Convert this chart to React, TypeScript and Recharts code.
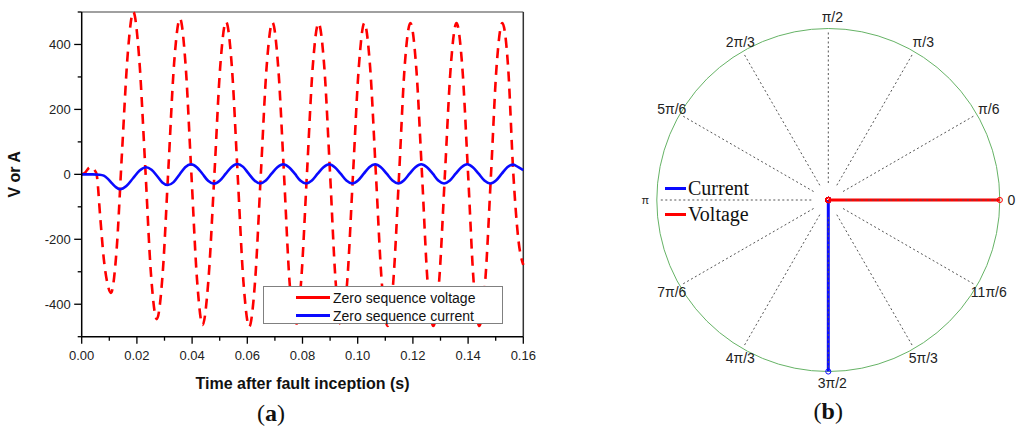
import React from 'react';
import {
  LineChart, Line, XAxis, YAxis, ReferenceLine, Legend,
  RadarChart, Radar, PolarGrid, PolarAngleAxis, PolarRadiusAxis,
} from 'recharts';

// ---------- Panel (a) data ----------
const voltageTime = [
  0, 0.0012, 0.0024, 0.0036, 0.0045, 0.0054, 0.0067, 0.008, 0.0093, 0.0106,
  0.0126, 0.0146, 0.0167, 0.0187,
  0.0208, 0.023, 0.0251, 0.0272,
  0.0293, 0.0314, 0.0335, 0.0356,
  0.0376, 0.0397, 0.0418, 0.0438,
  0.0459, 0.0481, 0.0502, 0.0523,
  0.0544, 0.0565, 0.0586, 0.0607,
  0.0628, 0.0649, 0.067, 0.0691,
  0.0712, 0.0733, 0.0753, 0.0774,
  0.0795, 0.0816, 0.0837, 0.0858,
  0.0879, 0.09, 0.092, 0.0941,
  0.0962, 0.0983, 0.1004, 0.1024,
  0.1045, 0.1066, 0.1087, 0.1108,
  0.1129, 0.115, 0.117, 0.1191,
  0.1212, 0.1233, 0.1253, 0.1274,
  0.1295, 0.1316, 0.1337, 0.1358,
  0.1379, 0.14, 0.142, 0.1441,
  0.1462, 0.1483, 0.1503, 0.1524,
  0.1545, 0.1564, 0.1582, 0.16,
];
const voltageValue = [
  0, 5, 18, 23, 15, 0, -130, -260, -335, -365,
  -238, 67, 373, 500,
  361, 27, -307, -446,
  -310, 17, 344, 480,
  342, 8, -326, -464,
  -327, 3, 333, 470,
  332, 0, -331, -469,
  -331, 0, 331, 468,
  330, 0, -330, -467,
  -330, 0, 330, 466,
  330, 0, -330, -467,
  -330, 0, 330, 466,
  330, 0, -330, -467,
  -330, 0, 330, 466,
  330, 0, -330, -467,
  -330, 0, 330, 466,
  330, 0, -330, -467,
  -330, 0, 330, 466,
  330, 0, -200, -279,
];
const currentTime = [
  0, 0.004, 0.0065, 0.008, 0.0095, 0.011, 0.0125, 0.0139,
  0.0162, 0.0186, 0.021, 0.0233,
  0.0253, 0.0273, 0.0292, 0.0312,
  0.0333, 0.0354, 0.0375, 0.0396,
  0.0417, 0.0438, 0.0458, 0.0479,
  0.05, 0.0522, 0.0543, 0.0564,
  0.0585, 0.0605, 0.0626, 0.0646,
  0.0667, 0.0688, 0.0709, 0.073,
  0.0751, 0.0772, 0.0792, 0.0813,
  0.0834, 0.0855, 0.0876, 0.0897,
  0.0917, 0.0938, 0.0959, 0.098,
  0.1001, 0.1022, 0.1042, 0.1063,
  0.1084, 0.1105, 0.1126, 0.1147,
  0.1167, 0.1188, 0.1209, 0.123,
  0.1251, 0.1272, 0.1292, 0.1313,
  0.1334, 0.1355, 0.1376, 0.1397,
  0.1417, 0.1438, 0.1459, 0.148,
  0.1501, 0.1522, 0.1542, 0.1563,
  0.1582, 0.16,
];
const currentValue = [
  0, 0, -1, -4, -14, -28, -40, -46,
  -36, -12, 12, 22,
  14, -5, -25, -33,
  -24, -1, 22, 31,
  22, 1, -20, -29,
  -20, 2, 23, 32,
  23, 2, -19, -28,
  -19, 2, 22, 31,
  22, 2, -19, -28,
  -19, 2, 22, 31,
  22, 2, -19, -28,
  -19, 2, 22, 31,
  22, 2, -19, -28,
  -19, 2, 22, 31,
  22, 2, -19, -28,
  -19, 2, 22, 31,
  22, 2, -19, -28,
  -19, 2, 22, 30,
  22, 13,
];

const xTicks = [0, 0.01, 0.02, 0.03, 0.04, 0.05, 0.06, 0.07, 0.08, 0.09, 0.1, 0.11, 0.12, 0.13, 0.14, 0.15, 0.16];
const xMajorTicks = [0, 0.02, 0.04, 0.06, 0.08, 0.1, 0.12, 0.14, 0.16];
const yTicks = [-500, -400, -300, -200, -100, 0, 100, 200, 300, 400, 500];
const yMajorTicks = [-400, -200, 0, 200, 400];
const legendOrderA = ['Zero sequence voltage', 'Zero sequence current'];

// ---------- Panel (b) data ----------
const angleLabels = ['0', 'π/6', 'π/3', 'π/2', '2π/3', '5π/6', 'π', '7π/6', '4π/3', '3π/2', '5π/3', '11π/6'];
const voltagePhasor = [1, 0, 0, 0, 0, 0, 0, 0, 0, 0, 0, 0];
const currentPhasor = [0, 0, 0, 0, 0, 0, 0, 0, 0, 1, 0, 0];

const voltageData = voltageTime.map((t, i) => ({ t, v: voltageValue[i] }));
const currentData = currentTime.map((t, i) => ({ t, v: currentValue[i] }));
const phasorData = angleLabels.map((angle, i) => ({ angle, voltage: voltagePhasor[i], current: currentPhasor[i] }));

const SANS = '"Liberation Sans", Arial, sans-serif';
const SERIF = '"Liberation Serif", "Times New Roman", serif';

const isMajor = (list: number[], v: number) => list.some((m) => Math.abs(m - v) < 1e-9);

const XTick = (props: any) => {
  const { x, y, payload } = props;
  const major = isMajor(xMajorTicks, payload.value);
  return (
    <g>
      <line x1={x} y1={y} x2={x} y2={y + (major ? 7 : 4)} stroke="#000" strokeWidth={1.3} />
      {major && (
        <text x={x} y={y + 19} textAnchor="middle" dominantBaseline="central" fontSize={13} fill="#222" fontFamily={SANS}>
          {Number(payload.value).toFixed(2)}
        </text>
      )}
    </g>
  );
};

const YTick = (props: any) => {
  const { x, y, payload } = props;
  const major = isMajor(yMajorTicks, payload.value);
  return (
    <g>
      <line x1={x} y1={y} x2={x - (major ? 7.5 : 4)} y2={y} stroke="#000" strokeWidth={1.3} />
      {major && (
        <text x={x - 11} y={y} textAnchor="end" dominantBaseline="central" fontSize={13} fill="#222" fontFamily={SANS}>
          {String(payload.value)}
        </text>
      )}
    </g>
  );
};

const LegendA = (props: any) => {
  const payload = [...(props.payload || [])].sort(
    (a: any, b: any) => legendOrderA.indexOf(a.value) - legendOrderA.indexOf(b.value),
  );
  return (
    <div style={{ width: 240, height: 38, boxSizing: 'border-box', border: '1px solid #808080', background: '#fff', paddingTop: 1.7 }}>
      {payload.map((e: any) => (
        <div key={e.value} style={{ display: 'flex', alignItems: 'center', height: 18 }}>
          <div style={{ marginLeft: 32, width: 34, height: 2.5, background: e.color }} />
          <span style={{ marginLeft: 3, fontSize: 14, lineHeight: '18px', color: '#111', fontFamily: SANS, whiteSpace: 'nowrap' }}>
            {e.value}
          </span>
        </div>
      ))}
    </div>
  );
};

const LegendB = (props: any) => {
  const payload = (props.payload || []).filter((e: any) => e.type !== 'none');
  return (
    <div>
      {payload.map((e: any) => (
        <div key={e.value} style={{ display: 'flex', alignItems: 'center', height: 26 }}>
          <div style={{ width: 21, height: 3, background: e.color }} />
          <span style={{ marginLeft: 2, fontSize: 20, lineHeight: '26px', color: '#111', fontFamily: SERIF, whiteSpace: 'nowrap' }}>
            {e.value}
          </span>
        </div>
      ))}
    </div>
  );
};

const CX = 228.3;
const CY = 200;
const LABEL_R = 183;
// angle ranges for the label/spoke chart and the phasor chart (aligned so index 0 sits at 0 rad)
const GRID_START = 30;
const GRID_END = 390;
const PHASOR_START = -30;
const PHASOR_END = 330;

const AngleTick = (props: any) => {
  const { payload } = props;
  const rad = (payload.coordinate * Math.PI) / 180;
  const x = CX + LABEL_R * Math.cos(rad) + 4 * Math.abs(Math.sin(rad));
  const y = CY - LABEL_R * Math.sin(rad);
  const small = payload.value === 'π';
  return (
    <text x={x} y={y} textAnchor="middle" dominantBaseline="central" fontSize={small ? 11 : 14} fill="#222" fontFamily={SANS}>
      {payload.value}
    </text>
  );
};

const makeDot = (color: string) => (p: any) => (
  <circle key={`${color}-${p.index}`} cx={p.cx} cy={p.cy} r={2.6} fill="none" stroke={color} strokeWidth={1} />
);

export default function App() {
  return (
    <div style={{ position: 'absolute', left: 0, top: 0, width: 1024, height: 434, background: '#fff', overflow: 'hidden' }}>
      {/* Panel (a) */}
      <div style={{ position: 'absolute', left: 0, top: 0 }}>
        <LineChart width={600} height={434} margin={{ top: 12, right: 76.7, bottom: 41.3, left: 0 }}>
          <XAxis
            type="number"
            dataKey="t"
            domain={[0, 0.16]}
            ticks={xTicks}
            interval={0}
            tickSize={0}
            tickMargin={0}
            tickLine={false}
            tick={<XTick />}
            height={56}
            axisLine={{ stroke: '#000', strokeWidth: 1.5 }}
            label={{
              value: 'Time after fault inception (s)',
              position: 'insideBottom',
              offset: 3.3,
              style: { fontFamily: SANS, fontWeight: 'bold', fontSize: 16, fill: '#111' },
            }}
          />
          <YAxis
            type="number"
            domain={[-500, 500]}
            ticks={yTicks}
            interval={0}
            tickSize={0}
            tickMargin={0}
            tickLine={false}
            tick={<YTick />}
            width={81.7}
            axisLine={{ stroke: '#000', strokeWidth: 1.5 }}
            label={{
              value: 'V or A',
              angle: -90,
              position: 'insideLeft',
              offset: 14,
              style: { textAnchor: 'middle', fontFamily: SANS, fontWeight: 'bold', fontSize: 16, fill: '#111' },
            }}
          />
          <ReferenceLine y={500} stroke="#808080" strokeWidth={1.5} />
          <ReferenceLine x={0.16} stroke="#333" strokeWidth={1.5} />
          <Line
            data={voltageData}
            dataKey="v"
            name="Zero sequence voltage"
            type="monotone"
            stroke="#ff0000"
            strokeWidth={2.6}
            strokeDasharray="10 7"
            dot={false}
            activeDot={false}
            isAnimationActive={false}
          />
          <Line
            data={currentData}
            dataKey="v"
            name="Zero sequence current"
            type="monotone"
            stroke="#0a0aff"
            strokeWidth={2.6}
            dot={false}
            activeDot={false}
            isAnimationActive={false}
          />
          <Legend
            layout="vertical"
            align="center"
            verticalAlign="middle"
            wrapperStyle={{ left: 263, top: 286, width: 240, height: 38 }}
            content={<LegendA />}
          />
        </LineChart>
      </div>

      {/* Panel (b): phasors + circle */}
      <div style={{ position: 'absolute', left: 600, top: 0 }}>
        <RadarChart
          width={424}
          height={434}
          cx={CX}
          cy={CY}
          innerRadius={0}
          outerRadius={171.5}
          startAngle={PHASOR_START}
          endAngle={PHASOR_END}
          data={phasorData}
          margin={{ top: 0, right: 0, bottom: 0, left: 0 }}
        >
          <PolarGrid gridType="circle" radialLines={false} polarRadius={[171.5]} stroke="#66b366" strokeWidth={1} />
          <PolarAngleAxis dataKey="angle" tick={false} tickLine={false} axisLine={false} />
          <PolarRadiusAxis type="number" domain={[0, 1]} tick={false} axisLine={false} />
          <Radar
            dataKey="current"
            name="Current"
            stroke="#0a0aff"
            strokeWidth={3}
            fill="none"
            fillOpacity={0}
            dot={makeDot('#0a0aff')}
            isAnimationActive={false}
          />
          <Radar
            dataKey="voltage"
            name="Voltage"
            stroke="#ff0000"
            strokeWidth={3}
            fill="none"
            fillOpacity={0}
            dot={makeDot('#ff0000')}
            isAnimationActive={false}
          />
          <Legend
            layout="vertical"
            align="center"
            verticalAlign="middle"
            wrapperStyle={{ left: 65, top: 175.3, width: 120, height: 52 }}
            content={<LegendB />}
          />
        </RadarChart>
      </div>

      {/* Panel (b): dotted spokes + angle labels */}
      <div style={{ position: 'absolute', left: 600, top: 0 }}>
        <RadarChart
          width={424}
          height={434}
          cx={CX}
          cy={CY}
          innerRadius={17}
          outerRadius={169}
          startAngle={GRID_START}
          endAngle={GRID_END}
          data={phasorData}
          margin={{ top: 0, right: 0, bottom: 0, left: 0 }}
        >
          <PolarGrid gridType="circle" polarRadius={[]} stroke="#555" strokeWidth={1} strokeDasharray="2 2.5" />
          <PolarAngleAxis dataKey="angle" tick={<AngleTick />} tickLine={false} axisLine={false} />
          <PolarRadiusAxis type="number" domain={[0, 1]} tick={false} axisLine={false} />
          <Radar dataKey="voltage" stroke="none" fill="none" fillOpacity={0} dot={false} legendType="none" isAnimationActive={false} />
        </RadarChart>
      </div>

      <div style={{ position: 'absolute', left: 271, top: 413, transform: 'translate(-50%, -50%)', fontFamily: SERIF, fontSize: 24, color: '#111', whiteSpace: 'nowrap' }}>
        (<b>a</b>)
      </div>
      <div style={{ position: 'absolute', left: 828.3, top: 411, transform: 'translate(-50%, -50%)', fontFamily: SERIF, fontSize: 24, color: '#111', whiteSpace: 'nowrap' }}>
        (<b>b</b>)
      </div>
    </div>
  );
}
